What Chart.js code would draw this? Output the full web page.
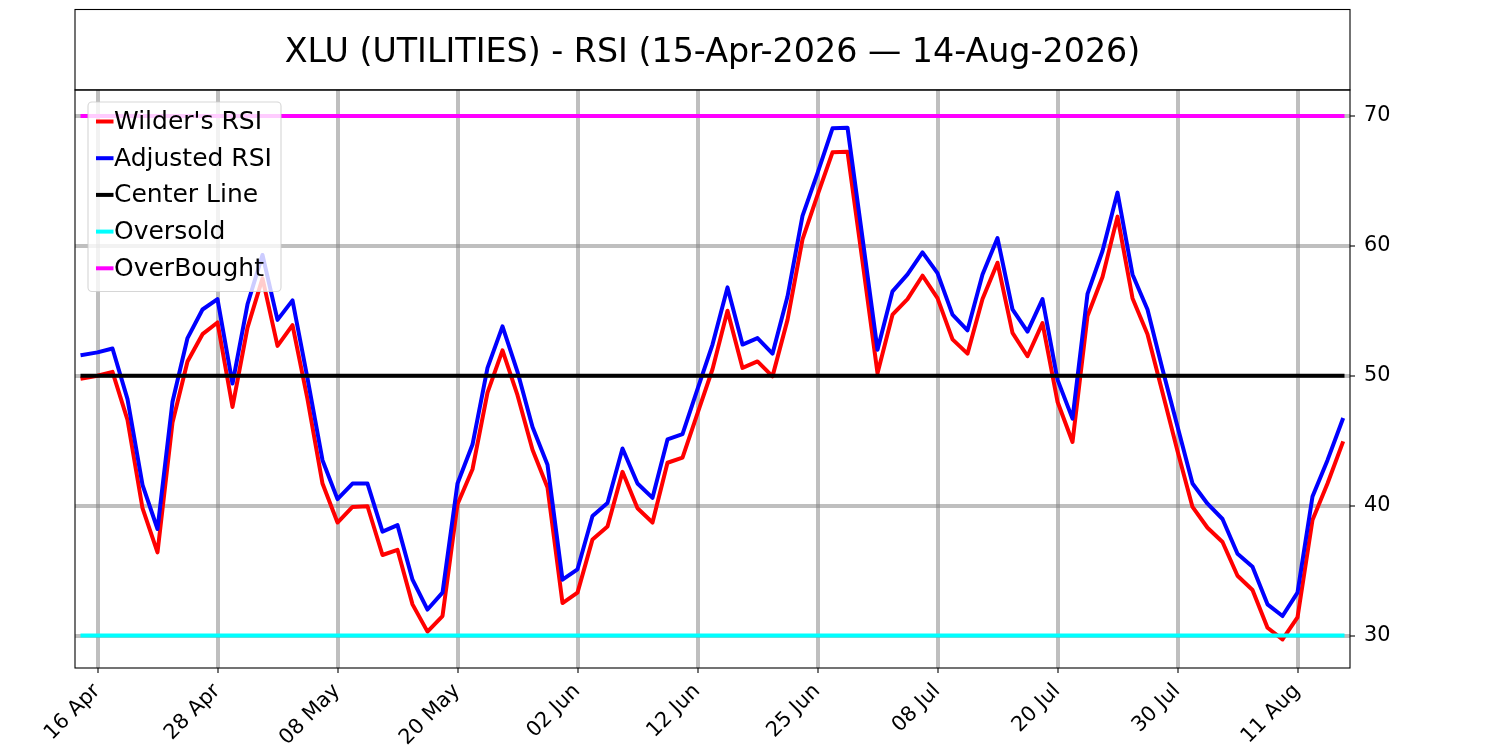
<!DOCTYPE html>
<html>
<head>
<meta charset="utf-8">
<style>
  html, body { margin: 0; padding: 0; background: #ffffff; }
  #wrap { width: 1500px; height: 750px; }
</style>
<script src="https://cdn.jsdelivr.net/npm/chart.js@4.4.1/dist/chart.umd.min.js"></script>
</head>
<body>
<div id="wrap"><canvas id="c" width="1500" height="750"></canvas></div>
<script>
// ---------------- data ----------------
const dates = [
  '15 Apr','16 Apr','17 Apr','20 Apr','21 Apr','22 Apr','23 Apr','24 Apr','27 Apr','28 Apr','29 Apr','30 Apr',
  '01 May','04 May','05 May','06 May','07 May','08 May','11 May','12 May','13 May','14 May','15 May','18 May',
  '19 May','20 May','21 May','22 May','26 May','27 May','28 May','29 May',
  '01 Jun','02 Jun','03 Jun','04 Jun','05 Jun','08 Jun','09 Jun','10 Jun','11 Jun','12 Jun','15 Jun','16 Jun',
  '17 Jun','18 Jun','22 Jun','23 Jun','24 Jun','25 Jun','26 Jun','29 Jun','30 Jun',
  '01 Jul','02 Jul','06 Jul','07 Jul','08 Jul','09 Jul','10 Jul','13 Jul','14 Jul','15 Jul','16 Jul','17 Jul',
  '20 Jul','21 Jul','22 Jul','23 Jul','24 Jul','27 Jul','28 Jul','29 Jul','30 Jul','31 Jul',
  '03 Aug','04 Aug','05 Aug','06 Aug','07 Aug','10 Aug','11 Aug','12 Aug','13 Aug','14 Aug'
];
const tickDates = ['16 Apr','28 Apr','08 May','20 May','02 Jun','12 Jun','25 Jun','08 Jul','20 Jul','30 Jul','11 Aug'];

const wildersRSI = [
  49.8, 50.0, 50.3, 46.6, 39.8, 36.4, 46.4, 51.1, 53.2, 54.1,
  47.6, 53.7, 57.5, 52.3, 53.9, 48.2, 41.7, 38.7, 39.9, 39.95,
  36.2, 36.6, 32.4, 30.3, 31.5, 40.1, 42.8, 48.7, 51.95, 48.5,
  44.3, 41.4, 32.5, 33.3, 37.4, 38.4, 42.6, 39.8, 38.7, 43.3,
  43.7, 47.1, 50.5, 55.0, 50.6, 51.1, 49.95, 54.3, 60.5, 63.9,
  67.2, 67.25, 58.8, 50.2, 54.7, 55.9, 57.7, 55.97, 52.8, 51.7,
  55.9, 58.7, 53.3, 51.5, 54.05, 48.0, 44.9, 54.6, 57.6, 62.25,
  55.97, 53.2, 48.7, 44.2, 39.9, 38.3, 37.2, 34.6, 33.5, 30.6,
  29.7, 31.4, 38.9, 41.7, 44.8
];
const adjustedRSI = [
  51.6, 51.8, 52.1, 48.2, 41.6, 38.2, 48.0, 52.9, 55.1, 55.9,
  49.4, 55.5, 59.3, 54.3, 55.8, 49.8, 43.5, 40.5, 41.7, 41.7,
  38.0, 38.5, 34.3, 32.0, 33.3, 41.7, 44.7, 50.6, 53.8, 50.3,
  46.05, 43.15, 34.3, 35.1, 39.2, 40.2, 44.4, 41.7, 40.6, 45.1,
  45.5, 48.97, 52.4, 56.8, 52.4, 52.9, 51.7, 56.1, 62.3, 65.6,
  69.05, 69.1, 60.6, 52.0, 56.5, 57.8, 59.5, 57.9, 54.7, 53.5,
  57.8, 60.6, 55.1, 53.4, 55.9, 49.7, 46.7, 56.3, 59.6, 64.1,
  57.8, 55.1, 50.5, 46.1, 41.7, 40.15, 38.97, 36.3, 35.3, 32.4,
  31.5, 33.3, 40.7, 43.5, 46.6
];
const centerLevel = 50;
const oversoldLevel = 30;
const overboughtLevel = 70;
const yTicks = [30, 40, 50, 60, 70];
const titleText = 'XLU (UTILITIES) - RSI (15-Apr-2026 \u2014 14-Aug-2026)';
const seriesNames = ["Wilder's RSI", 'Adjusted RSI', 'Center Line', 'Oversold', 'OverBought'];
const seriesColors = ['#ff0000', '#0000ff', '#000000', '#00ffff', '#ff00ff'];

// ---------------- chart ----------------
const FONT = "'DejaVu Sans', 'Liberation Sans', sans-serif";
const GRID = 'rgba(128,128,128,0.5)';
const isTick = (i) => tickDates.includes(dates[i]);
const constSeries = (v) => dates.map(() => v);

// axes spines + title box
const frame = {
  id: 'frame',
  afterDraw(chart) {
    const { ctx, chartArea: a } = chart;
    ctx.save();
    ctx.strokeStyle = '#000';
    ctx.lineWidth = 1.1;
    ctx.strokeRect(a.left, a.top, a.right - a.left, a.bottom - a.top);
    ctx.strokeRect(a.left, 9.5, a.right - a.left, a.top - 9.5);
    ctx.restore();
  }
};

// matplotlib-style legend drawn above the lines
const boxLegend = {
  id: 'boxLegend',
  afterDatasetsDraw(chart) {
    const { ctx } = chart;
    ctx.save();
    ctx.beginPath();
    ctx.roundRect(88, 102, 193, 189.5, 4);
    ctx.fillStyle = 'rgba(255,255,255,0.8)';
    ctx.fill();
    ctx.strokeStyle = 'rgba(204,204,204,0.8)';
    ctx.lineWidth = 1.1;
    ctx.stroke();
    ctx.font = '25px ' + FONT;
    ctx.textBaseline = 'middle';
    ctx.textAlign = 'left';
    seriesNames.forEach((name, k) => {
      const y = 121.5 + 36.7 * k;
      ctx.strokeStyle = seriesColors[k];
      ctx.lineWidth = 4;
      ctx.beginPath();
      ctx.moveTo(96, y);
      ctx.lineTo(113.5, y);
      ctx.stroke();
      ctx.fillStyle = '#000';
      ctx.fillText(name, 114, y + 1);
    });
    ctx.restore();
  }
};

const lineDs = (label, data, color, order) => ({
  label, data, borderColor: color, backgroundColor: color,
  borderWidth: 4, pointRadius: 0, pointHoverRadius: 0,
  tension: 0, fill: false, order, borderJoinStyle: 'round', borderCapStyle: 'square'
});

new Chart(document.getElementById('c'), {
  type: 'line',
  data: {
    labels: dates,
    datasets: [
      lineDs(seriesNames[0], wildersRSI, seriesColors[0], 5),
      lineDs(seriesNames[1], adjustedRSI, seriesColors[1], 4),
      lineDs(seriesNames[2], constSeries(centerLevel), seriesColors[2], 3),
      lineDs(seriesNames[3], constSeries(oversoldLevel), seriesColors[3], 2),
      lineDs(seriesNames[4], constSeries(overboughtLevel), seriesColors[4], 1)
    ]
  },
  options: {
    responsive: false, animation: false, devicePixelRatio: 1,
    layout: { padding: { left: 75, top: 9, right: 0, bottom: 0 } },
    plugins: {
      legend: { display: false }, tooltip: { enabled: false },
      title: {
        display: true, text: titleText, fullSize: false, color: '#000',
        font: { family: FONT, size: 33.3, weight: 'normal', lineHeight: 1.2 },
        padding: { top: 24.5, bottom: 16.5 }
      }
    },
    scales: {
      x: {
        type: 'category', offset: true,
        grid: {
          offset: false,
          color: (c) => (c.index !== undefined && isTick(c.index)) ? GRID : 'rgba(0,0,0,0)',
          lineWidth: 4,
          tickColor: (c) => (c.index !== undefined && isTick(c.index)) ? '#000' : 'rgba(0,0,0,0)',
          tickLength: 5, tickWidth: 1.1
        },
        border: { display: false },
        ticks: {
          autoSkip: false, minRotation: 45, maxRotation: 45, color: '#000',
          padding: 6, labelOffset: -0.5,
          font: { family: FONT, size: 20.8 },
          callback: function (v, i) { return isTick(i) ? dates[i] : ''; }
        },
        afterFit: (s) => { s.height = 82; }
      },
      y: {
        position: 'right', min: 27.5, max: 72.0,
        afterBuildTicks: (s) => { s.ticks = yTicks.map(v => ({ value: v })); },
        grid: { color: GRID, lineWidth: 4, tickColor: '#000', tickLength: 5, tickWidth: 1.1 },
        border: { display: false },
        ticks: { color: '#000', padding: 9, font: { family: FONT, size: 20.8 }, callback: (v) => String(v) },
        afterFit: (s) => { s.width = 150; }
      }
    }
  },
  plugins: [frame, boxLegend]
});
</script>
</body>
</html>
